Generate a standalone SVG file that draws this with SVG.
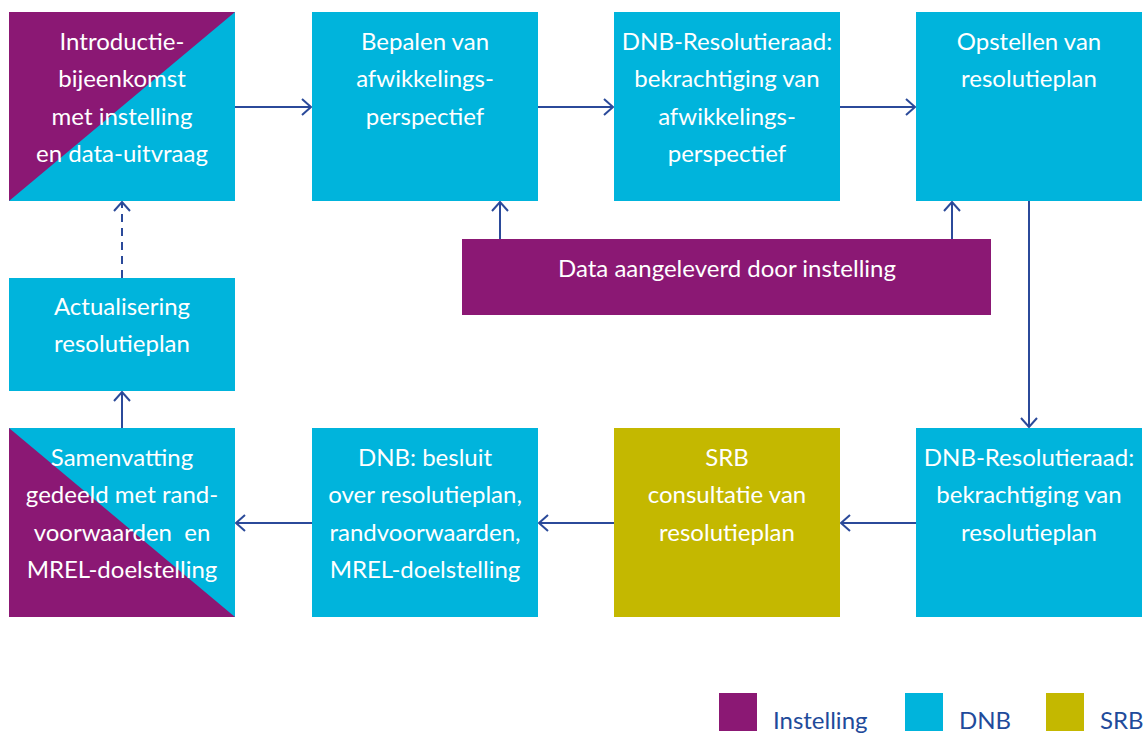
<svg xmlns="http://www.w3.org/2000/svg" width="1146" height="735" viewBox="0 0 1146 735">
<style>
.p{fill:#8B1874}.b{fill:#00B4DC}.o{fill:#C4B800}
.t{font-family:Lato,"Open Sans",sans-serif;font-size:24px;fill:#ffffff;text-anchor:middle}
.l{font-family:Lato,"Open Sans",sans-serif;font-size:24px;fill:#1F4B9B}
.c{stroke:#2B4A9A;stroke-width:2;fill:none;marker-end:url(#ah)}
</style>
<defs>
<marker id="ah" markerUnits="userSpaceOnUse" markerWidth="14" markerHeight="20" refX="11" refY="10" orient="auto">
<path d="M2,2 L11,10 L2,18" fill="none" stroke="#2B4A9A" stroke-width="2"/>
</marker>
</defs>
<rect width="1146" height="735" fill="#ffffff"/>
<g id="connectors">
<line class="c" x1="235" y1="107" x2="311" y2="107"/>
<line class="c" x1="538" y1="107" x2="613" y2="107"/>
<line class="c" x1="840" y1="107" x2="915" y2="107"/>
<line class="c" x1="500" y1="239" x2="500" y2="202"/>
<line class="c" x1="952" y1="239" x2="952" y2="202"/>
<line class="c" x1="1029" y1="201" x2="1029" y2="427"/>
<line class="c" x1="916" y1="523" x2="841" y2="523"/>
<line class="c" x1="614" y1="523" x2="539" y2="523"/>
<line class="c" x1="312" y1="523" x2="236" y2="523"/>
<line class="c" x1="122" y1="428" x2="122" y2="392"/>
<line class="c" x1="122" y1="278" x2="122" y2="202" stroke-dasharray="8,6"/>
</g>
<g id="n1">
<rect class="b" x="9" y="12" width="226" height="189"/>
<polygon class="p" points="9,12 235,12 9,201"/>
<text class="t" x="122" y="50">Introductie-</text>
<text class="t" x="122" y="87">bijeenkomst</text>
<text class="t" x="122" y="125">met instelling</text>
<text class="t" x="122" y="162">en data-uitvraag</text>
</g>
<g id="n2">
<rect class="b" x="312" y="12" width="226" height="189"/>
<text class="t" x="425" y="50">Bepalen van</text>
<text class="t" x="425" y="87">afwikkelings-</text>
<text class="t" x="425" y="125">perspectief</text>
</g>
<g id="n3">
<rect class="b" x="614" y="12" width="226" height="189"/>
<text class="t" x="727" y="50">DNB-Resolutieraad:</text>
<text class="t" x="727" y="87">bekrachtiging van</text>
<text class="t" x="727" y="125">afwikkelings-</text>
<text class="t" x="727" y="162">perspectief</text>
</g>
<g id="n4">
<rect class="b" x="916" y="12" width="226" height="189"/>
<text class="t" x="1029" y="50">Opstellen van</text>
<text class="t" x="1029" y="87">resolutieplan</text>
</g>
<g id="data">
<rect class="p" x="462" y="239" width="529" height="76"/>
<text class="t" x="727" y="277">Data aangeleverd door instelling</text>
</g>
<g id="n5">
<rect class="b" x="9" y="278" width="226" height="113"/>
<text class="t" x="122" y="315">Actualisering</text>
<text class="t" x="122" y="352">resolutieplan</text>
</g>
<g id="n6">
<rect class="b" x="916" y="428" width="226" height="189"/>
<text class="t" x="1029" y="466">DNB-Resolutieraad:</text>
<text class="t" x="1029" y="503">bekrachtiging van</text>
<text class="t" x="1029" y="541">resolutieplan</text>
</g>
<g id="n7">
<rect class="o" x="614" y="428" width="226" height="189"/>
<text class="t" x="727" y="466">SRB</text>
<text class="t" x="727" y="503">consultatie van</text>
<text class="t" x="727" y="541">resolutieplan</text>
</g>
<g id="n8">
<rect class="b" x="312" y="428" width="226" height="189"/>
<text class="t" x="425" y="466">DNB: besluit</text>
<text class="t" x="425" y="503">over resolutieplan,</text>
<text class="t" x="425" y="541">randvoorwaarden,</text>
<text class="t" x="425" y="578">MREL-doelstelling</text>
</g>
<g id="n9">
<rect class="b" x="9" y="428" width="226" height="189"/>
<polygon class="p" points="9,428 235,617 9,617"/>
<text class="t" x="122" y="466">Samenvatting</text>
<text class="t" x="122" y="503">gedeeld met rand-</text>
<text class="t" x="122" y="541" xml:space="preserve" style="white-space:pre">voorwaarden  en</text>
<text class="t" x="122" y="578">MREL-doelstelling</text>
</g>
<g id="legend">
<rect class="p" x="719" y="693" width="38" height="38"/>
<text class="l" x="773" y="729">Instelling</text>
<rect class="b" x="905" y="693" width="38" height="38"/>
<text class="l" x="959" y="729">DNB</text>
<rect class="o" x="1046" y="693" width="38" height="38"/>
<text class="l" x="1100" y="729">SRB</text>
</g>
</svg>
